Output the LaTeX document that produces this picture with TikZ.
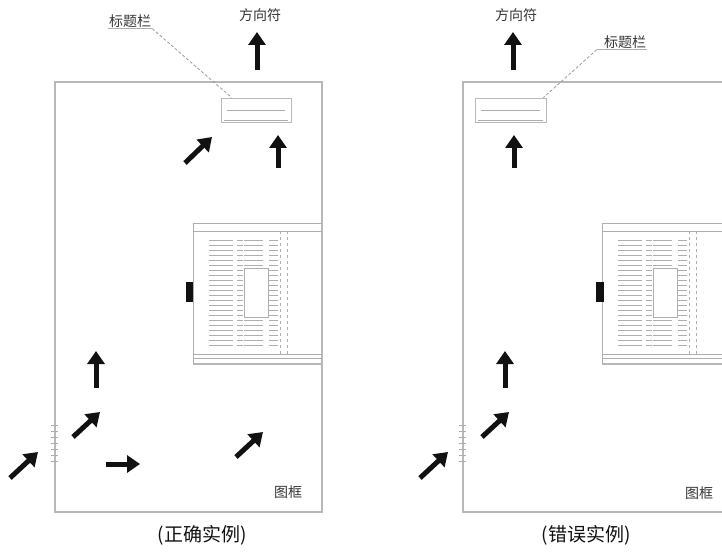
\documentclass[tikz,border=0pt]{standalone}
\usepackage{fontspec}
\usepackage{xcolor}
\usetikzlibrary{arrows.meta,positioning,calc}
\newfontfamily\cjk{Noto Sans CJK SC}
\definecolor{Ink}{HTML}{111111}
\definecolor{Rule}{HTML}{9A9A9A}
% heavy direction arrow
\tikzset{
  dirarr/.style={draw=Ink, line width=5pt, -{Triangle[width=17pt,length=13pt]}},
  sheet/.style={draw=Rule!70, line width=1.2pt},
  hair/.style={draw=Rule!80, line width=0.7pt},
  lbl/.style={font=\cjk\fontsize{14}{16}\selectfont, text=Ink!85, inner sep=1pt},
  captext/.style={font=\cjk\fontsize{19}{22}\selectfont, text=Ink},
  leader/.style={draw=Rule, line width=0.8pt, dash pattern=on 3pt off 2pt}
}
% rotated title block seen at the sheet edge
\newcommand{\titletable}[2]{
  \begin{scope}[shift={(#1,#2)}]
    \draw[hair] (0,0) -- (129,0);
    \draw[hair] (0,8) -- (129,8);
    \draw[hair] (0,131) -- (129,131);
    \draw[hair] (0,135) -- (129,135);
    \draw[sheet] (0,141) -- (129,141);
    \draw[hair] (0,0) -- (0,141);
    \draw[hair, dashed] (87,8) -- (87,131);
    \draw[hair, dashed] (94,8) -- (94,131);
    \foreach \r in {17,22,...,122} {
      \draw[hair] (16,\r) -- (40,\r);
      \draw[hair] (44,\r) -- (50,\r);
      \draw[hair] (76,\r) -- (85,\r);
    }
    \foreach \r in {17,22,...,42,97,102,...,122}
      \draw[hair] (51,\r) -- (70,\r);
    \draw[hair] (51,45) rectangle (75,94);
  \end{scope}
}

\begin{document}
\begin{tikzpicture}[x=1pt, y=-1pt]
  \useasboundingbox (0,0) rectangle (722,553);
  \clip (0,0) rectangle (722,553);

  % ---- correct example
  \draw[sheet] (55,82) rectangle (322,512);
  \node[draw=Rule!70, line width=0.8pt, minimum width=70pt, minimum height=24pt] (tb) at (256,110) {};
  \draw[hair] ($(tb.south west)+(3,-2)$) -- ($(tb.south east)+(-3,-2)$);
  \draw[hair] ($(tb.west)+(6,0)$) -- ($(tb.east)+(-6,0)$);
  \node[lbl] (tbl) at (130,21) {标题栏};
  \draw[hair] (tbl.south west) -- (tbl.south east);
  \coordinate (tbin) at ($(tb.north west)+(11,0)$);
  \draw[leader] (tbl.south east) -- (tbin);
  \node[lbl] (dirl) at (260,15) {方向符};
  \draw[dirarr] (257,70) -- (257,32);
  \draw[dirarr] (278,168) -- (278,135);
  \draw[dirarr] (185,163) -- (212,137);
  \titletable{193}{223}
  \fill[Ink] (186,282) rectangle (193,302);
  \draw[dirarr] (96,388) -- (96,351);
  \draw[dirarr] (73,437) -- (100,412);
  \draw[dirarr] (10,478) -- (38,452);
  \draw[dirarr] (106,464) -- (140,464);
  \draw[dirarr] (236,457) -- (263,432);
  \foreach \yy in {425,431,...,461}
    \draw[hair] (51,\yy) -- (58,\yy);
  \node[lbl] (fr) at (288,492) {图框};
  \node[captext] (capa) at (202,535) {(正确实例)};

  % ---- wrong example
  \draw[sheet] (463,82) rectangle (730,512);
  \node[draw=Rule!70, line width=0.8pt, minimum width=71pt, minimum height=24pt] (tbb) at (510.5,110) {};
  \draw[hair] ($(tbb.south west)+(3,-2)$) -- ($(tbb.south east)+(-3,-2)$);
  \draw[hair] ($(tbb.west)+(6,0)$) -- ($(tbb.east)+(-6,0)$);
  \node[lbl] (tblb) at (625,42) {标题栏};
  \draw[hair] ($(tblb.south west)+(-6,0)$) -- (tblb.south east);
  \coordinate (tbinb) at ($(tbb.north east)+(-3,0)$);
  \draw[leader] ($(tblb.south west)+(-6,0)$) -- (tbinb);
  \node[lbl] (dirlb) at (516,15) {方向符};
  \draw[dirarr] (513,70) -- (513,32);
  \draw[dirarr] (514,168) -- (514,135);
  \titletable{602}{223}
  \fill[Ink] (596,282) rectangle (604,302);
  \draw[dirarr] (505,388) -- (505,351);
  \draw[dirarr] (482,437) -- (509,412);
  \draw[dirarr] (420,478) -- (448,452);
  \foreach \yy in {425,431,...,461}
    \draw[hair] (459,\yy) -- (466,\yy);
  \node[lbl] (frb) at (699,493) {图框};
  \node[captext] (capb) at (586,535) {(错误实例)};
\end{tikzpicture}
\end{document}
